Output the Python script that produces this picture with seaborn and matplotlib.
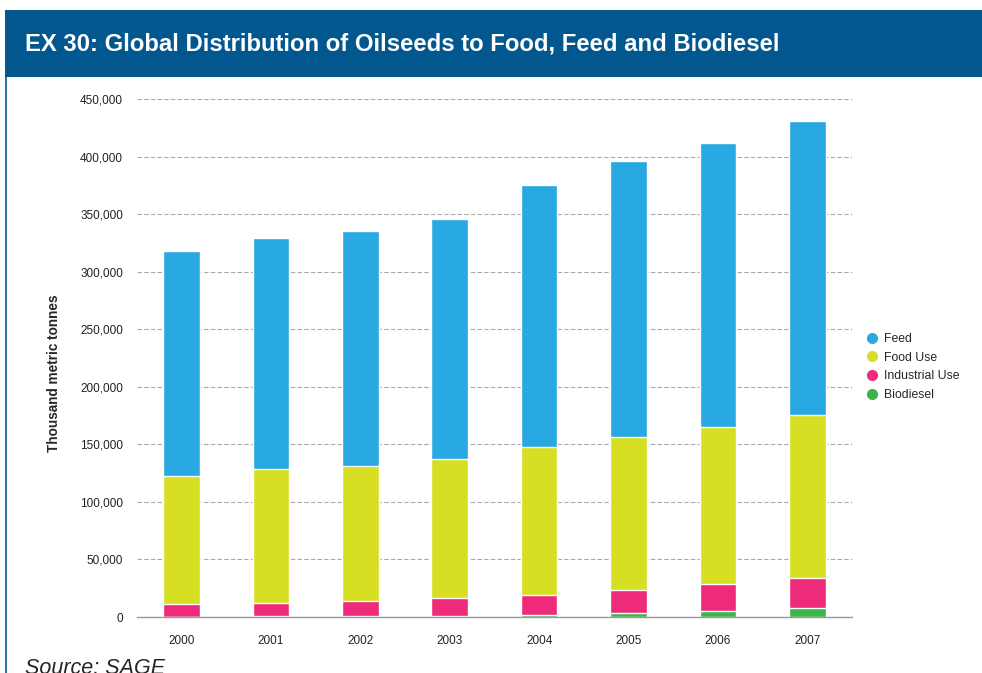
import matplotlib
matplotlib.use("Agg")
import matplotlib.pyplot as plt
from matplotlib.lines import Line2D
from matplotlib.patches import Rectangle
from matplotlib.ticker import FuncFormatter, FixedLocator
import numpy as np
import pandas as pd
import seaborn as sns

years = ['2000', '2001', '2002', '2003', '2004', '2005', '2006', '2007']
feed = [195500, 200700, 204200, 208500, 227600, 239800, 246700, 255500]
food_use = [111200, 116200, 117600, 120800, 128200, 132600, 136700, 141300]
industrial = [10900, 11800, 12800, 15500, 17500, 20600, 23400, 26400]
biodiesel = [400, 600, 800, 1000, 2000, 3200, 5000, 7800]

series = ['Feed', 'Food Use', 'Industrial Use', 'Biodiesel']
colors = {'Feed': '#29A9E1', 'Food Use': '#D6DF22', 'Industrial Use': '#EE2B7B', 'Biodiesel': '#3BB54A'}

df = pd.DataFrame({'year': years, 'Feed': feed, 'Food Use': food_use,
                   'Industrial Use': industrial, 'Biodiesel': biodiesel})
# cumulative tops, bottom series first
df['top_Biodiesel'] = df['Biodiesel']
df['top_Industrial Use'] = df['top_Biodiesel'] + df['Industrial Use']
df['top_Food Use'] = df['top_Industrial Use'] + df['Food Use']
df['top_Feed'] = df['top_Food Use'] + df['Feed']

sns.set_style("white")
plt.rcParams['font.family'] = ['Liberation Sans', 'DejaVu Sans']

fig = plt.figure(figsize=(9.82, 6.73), dpi=100)
ax = fig.add_axes([0.1395, 0.0832, 0.7281, 0.7697])

# header band and frame line
fig.patches.append(Rectangle((5 / 982, 1 - 77 / 673), 1, 67 / 673, transform=fig.transFigure,
                             facecolor='#03578F', edgecolor='none', zorder=0))
fig.add_artist(Line2D([5.5 / 982, 5.5 / 982], [0, 1 - 77 / 673], transform=fig.transFigure,
                      color='#03578F', lw=1.2))
fig.text(25 / 982, 1 - 44 / 673, 'EX 30: Global Distribution of Oilseeds to Food, Feed and Biodiesel',
         color='white', fontsize=17.2, fontweight='bold', va='center', ha='left')
fig.text(25 / 982, -1.5 / 673, 'Source: SAGE', fontsize=15.5, style='italic', va='baseline', ha='left')

# gridlines behind bars
for v in range(0, 450001, 50000):
    if v > 0:
        ax.axhline(v, color='#a8a8a8', lw=0.8, ls=(0, (4, 2)), zorder=0)

for s in series:
    sns.barplot(data=df, x='year', y='top_' + s, color=colors[s], width=0.41,
                errorbar=None, saturation=1, ax=ax, zorder=2)

ax.set_xlim(-0.5, 7.5)
ax.set_ylim(0, 450000)
ax.set_yticks(np.arange(0, 450001, 50000))
ax.yaxis.set_major_formatter(FuncFormatter(lambda v, p: f'{int(v):,}'))
ax.tick_params(axis='y', length=0, labelsize=8.5, pad=10, labelcolor='#222222')
ax.tick_params(axis='x', which='major', length=0, labelsize=8.5, pad=13, labelcolor='#222222')
ax.xaxis.set_minor_locator(FixedLocator(np.arange(-0.5, 8, 1)))
ax.tick_params(axis='x', which='minor', length=5, width=1, color='#999999', direction='out')
ax.set_xlabel('')
ax.set_ylabel('Thousand metric tonnes', fontsize=9.8, fontweight='bold')
ax.yaxis.set_label_coords(-76 / 715, (617 - 373) / 518)

for sp in ['top', 'right', 'left']:
    ax.spines[sp].set_visible(False)
ax.spines['bottom'].set_color('#999999')
ax.spines['bottom'].set_linewidth(1)

handles = [Line2D([], [], marker='o', ls='none', markersize=7, markerfacecolor=colors[s],
                  markeredgecolor=colors[s], label=s) for s in series]
fig.legend(handles=handles, loc='upper left', bbox_to_anchor=(855 / 982, 1 - 328 / 673),
           frameon=False, fontsize=8.8, handletextpad=0.0, labelspacing=0.55, borderaxespad=0)

fig.savefig('out.png', dpi=100)
